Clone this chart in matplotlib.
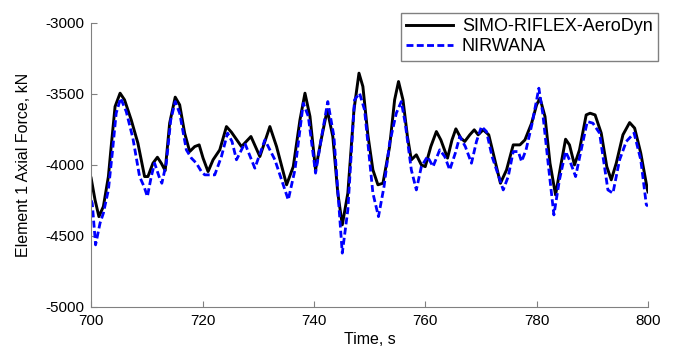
import matplotlib.pyplot as plt

plt.rcParams['font.family'] = ['Liberation Sans', 'DejaVu Sans']
plt.rcParams['axes.unicode_minus'] = False

# values
t_simo = [700.0, 700.7, 701.4, 702.2, 703.1, 703.6, 704.3, 705.2, 706.0, 707.2, 708.4,
          709.6, 710.2, 711.1, 711.9, 712.6, 713.3, 714.1, 715.1, 715.9, 716.8, 717.7,
          718.6, 719.4, 720.1, 721.0, 721.9, 723.1, 724.3, 725.2, 727.0, 728.7, 730.3,
          732.1, 733.3, 735.1, 736.3, 737.5, 738.4, 739.3, 740.3, 741.3, 742.4, 743.4,
          744.3, 745.1, 746.1, 747.2, 748.1, 748.8, 749.7, 750.6, 751.5, 752.4, 753.6,
          754.5, 755.2, 756.0, 756.8, 757.5, 758.4, 759.3, 760.0, 761.0, 762.0, 762.8,
          764.0, 764.8, 765.5, 766.4, 767.1, 768.0, 768.8, 769.5, 770.4, 771.4, 772.2,
          773.5, 774.6, 775.8, 777.0, 777.9, 779.1, 780.0, 780.6, 781.5, 782.4, 783.4,
          784.3, 785.2, 785.9, 786.8, 787.7, 788.9, 789.6, 790.5, 791.6, 792.6, 793.4,
          794.3, 795.5, 796.7, 797.6, 798.7, 799.9, 800.0]
f_simo = [-4093, -4246, -4364, -4293, -4082, -3871, -3589, -3495, -3542, -3683, -3847,
          -4082, -4082, -3988, -3946, -3988, -4040, -3706, -3523, -3577, -3777, -3906,
          -3871, -3859, -3952, -4047, -3964, -3894, -3730, -3770, -3871, -3800, -3941,
          -3730, -3871, -4140, -4012, -3683, -3495, -3659, -4035, -3824, -3612, -3800,
          -4199, -4422, -4199, -3612, -3354, -3448, -3790, -4035, -4140, -4129, -3871,
          -3542, -3413, -3542, -3800, -3964, -3929, -4000, -4012, -3871, -3765, -3824,
          -3952, -3824, -3746, -3812, -3835, -3788, -3753, -3788, -3753, -3788, -3917,
          -4129, -4035, -3859, -3859, -3824, -3706, -3577, -3530, -3659, -3988, -4211,
          -4012, -3819, -3859, -4000, -3894, -3648, -3636, -3648, -3776, -4012, -4105,
          -3988, -3788, -3702, -3741, -3917, -4176, -4190]

t_nir = [700.0, 700.2, 700.8, 701.6, 702.2, 703.1, 703.8, 704.5, 705.3, 706.3, 707.5,
         708.7, 709.5, 710.1, 710.8, 711.4, 712.2, 712.7, 713.5, 714.3, 715.1, 715.9,
         717.1, 718.0, 718.9, 719.8, 720.4, 722.2, 723.4, 724.5, 725.3, 726.1, 727.6,
         729.4, 731.2, 733.0, 735.4, 736.6, 738.1, 739.0, 740.3, 741.5, 742.5, 743.6,
         745.1, 746.1, 747.3, 748.2, 749.1, 750.6, 751.6, 752.6, 753.6, 754.8, 755.7,
         756.4, 757.5, 758.4, 759.3, 760.4, 761.4, 762.6, 763.5, 764.4, 765.4, 766.2,
         767.2, 768.3, 769.2, 770.1, 771.0, 772.0, 773.4, 774.0, 774.9, 775.8, 776.7,
         777.3, 778.1, 779.2, 780.4, 781.1, 782.0, 783.1, 784.1, 785.2, 785.9, 787.0,
         788.0, 789.1, 790.1, 791.3, 792.8, 793.7, 794.9, 796.1, 797.5, 798.7, 799.7,
         800.0]
f_nir = [-4250, -4269, -4563, -4410, -4340, -4176, -3917, -3636, -3530, -3624, -3812,
         -4082, -4152, -4223, -4082, -3988, -4082, -4129, -3988, -3683, -3554, -3636,
         -3894, -3952, -3988, -4047, -4070, -4070, -3941, -3776, -3835, -3964, -3847,
         -4023, -3824, -3964, -4246, -4035, -3565, -3659, -4058, -3776, -3554, -3800,
         -4621, -4317, -3542, -3495, -3612, -4199, -4364, -4152, -3847, -3636, -3554,
         -3706, -4035, -4176, -4012, -3941, -4012, -3894, -3941, -4035, -3917, -3800,
         -3871, -3988, -3835, -3730, -3765, -3941, -4105, -4176, -4082, -3906, -3906,
         -3976, -3894, -3706, -3460, -3636, -3964, -4352, -4105, -3906, -3964, -4082,
         -3894, -3695, -3706, -3776, -4176, -4199, -3964, -3835, -3776, -3964, -4281,
         -4290]

fig = plt.figure(figsize=(6.75, 3.52), dpi=100)
ax = fig.add_axes([0.135, 0.128, 0.825, 0.807])

ax.plot(t_simo, f_simo, color='black', lw=2.1, solid_joinstyle='round',
        label='SIMO-RIFLEX-AeroDyn')
ax.plot(t_nir, f_nir, color='#0000ff', lw=2.0, ls='--', dashes=(2.5, 1.2),
        dash_joinstyle='round', label='NIRWANA')

ax.set_xlim(700, 800)
ax.set_ylim(-5000, -3000)
ax.set_xticks(range(700, 801, 20))
ax.set_yticks(range(-5000, -2999, 500))
ax.tick_params(direction='in', labelsize=11, length=4, color='#808080', pad=5)
ax.spines['top'].set_visible(False)
ax.spines['right'].set_visible(False)
for s in ['left', 'bottom']:
    ax.spines[s].set_color('#808080')
ax.set_xlabel('Time, s', fontsize=11.5, labelpad=3)
ax.set_ylabel('Element 1 Axial Force, kN', fontsize=11.5, labelpad=10)

leg = ax.legend(loc='upper right', bbox_to_anchor=(0.975, 0.963), bbox_transform=fig.transFigure,
                fontsize=13, fancybox=False, framealpha=1, borderaxespad=0,
                handlelength=2.6, handletextpad=0.5, borderpad=0.3, labelspacing=0.15)
leg.get_frame().set_edgecolor('#808080')
leg.get_frame().set_linewidth(1.0)

fig.savefig('out.png', dpi=100)
